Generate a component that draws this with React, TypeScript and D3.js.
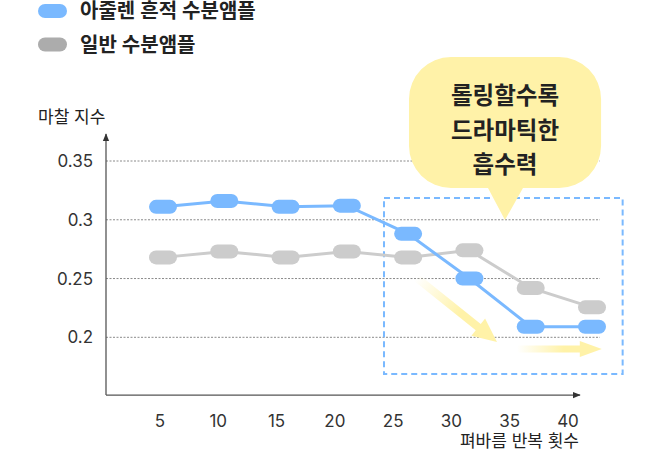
import React, { useEffect, useRef } from "react";
import * as d3 from "d3";

const rounds = [5, 10, 15, 20, 25, 30, 35, 40];
const azulene = [0.311, 0.316, 0.311, 0.312, 0.288, 0.25, 0.209, 0.209];
const normal = [0.268, 0.273, 0.268, 0.273, 0.268, 0.274, 0.242, 0.2255];
const yTicks = [0.2, 0.25, 0.3, 0.35];
const legendLabels = ["아줄렌 흔적 수분앰플", "일반 수분앰플"];
const calloutLines = ["롤링할수록", "드라마틱한", "흡수력"];

const BLUE = "#7ab9ff";
const GRAY_LINE = "#cccccc";
const GRAY_LEGEND = "#acacac";
const YELLOW = "#fff2a8";
const FONT = "Inter, 'Noto Sans CJK KR', sans-serif";

const App: React.FC = () => {
  const svgRef = useRef<SVGSVGElement>(null);

  useEffect(() => {
    const svg = d3.select(svgRef.current);
    svg.selectAll("*").remove();

    // scales
    const x = d3.scaleLinear().domain([5, 40]).range([163, 592]);
    const xLabel = d3.scaleLinear().domain([5, 40]).range([160, 568]);
    const y = d3.scaleLinear().domain([0.2, 0.35]).range([337.3, 161]);
    const axisX = 106;
    const axisY = y(0.15) - 1;

    const defs = svg.append("defs");
    defs
      .append("marker")
      .attr("id", "axisArrow")
      .attr("viewBox", "0 0 10 10")
      .attr("refX", 9)
      .attr("refY", 5)
      .attr("markerWidth", 6)
      .attr("markerHeight", 6)
      .attr("orient", "auto")
      .append("path")
      .attr("d", "M0,1 L10,5 L0,9 Z")
      .attr("fill", "#333");

    // legend
    const legend = svg.append("g");
    legendLabels.forEach((label, i) => {
      const cy = 11 + i * 33.5;
      legend
        .append("rect")
        .attr("x", 38)
        .attr("y", cy - 7)
        .attr("width", 29)
        .attr("height", 14)
        .attr("rx", 7)
        .attr("fill", i === 0 ? BLUE : GRAY_LEGEND);
      legend
        .append("text")
        .attr("x", 80)
        .attr("y", cy)
        .attr("dy", "0.36em")
        .style("font-family", FONT)
        .style("font-size", "20px")
        .style("font-weight", 600)
        .attr("fill", "#222")
        .text(label);
    });

    // gridlines
    svg
      .append("g")
      .selectAll("line")
      .data(yTicks)
      .join("line")
      .attr("x1", axisX)
      .attr("x2", 600)
      .attr("y1", (d) => y(d))
      .attr("y2", (d) => y(d))
      .attr("stroke", "#8a8a8a")
      .attr("stroke-width", 1)
      .attr("stroke-dasharray", "2,1.5");

    // y tick labels
    svg
      .append("g")
      .selectAll("text")
      .data(yTicks)
      .join("text")
      .attr("x", 93)
      .attr("y", (d) => y(d))
      .attr("dy", "0.36em")
      .attr("text-anchor", "end")
      .style("font-family", FONT)
      .style("font-size", "17px")
      .attr("fill", "#333")
      .text((d) => String(d));

    // x tick labels
    svg
      .append("g")
      .selectAll("text")
      .data(rounds)
      .join("text")
      .attr("x", (d) => xLabel(d))
      .attr("y", 421)
      .attr("dy", "0.36em")
      .attr("text-anchor", "middle")
      .style("font-family", FONT)
      .style("font-size", "17px")
      .attr("fill", "#333")
      .text((d) => String(d));

    // axes
    svg
      .append("line")
      .attr("x1", axisX)
      .attr("y1", axisY)
      .attr("x2", axisX)
      .attr("y2", 134)
      .attr("stroke", "#555")
      .attr("stroke-width", 1.3)
      .attr("marker-end", "url(#axisArrow)");
    svg
      .append("line")
      .attr("x1", axisX)
      .attr("y1", axisY)
      .attr("x2", 580)
      .attr("y2", axisY)
      .attr("stroke", "#555")
      .attr("stroke-width", 1.3)
      .attr("marker-end", "url(#axisArrow)");

    // axis titles
    svg
      .append("text")
      .attr("x", 38)
      .attr("y", 117)
      .attr("dy", "0.36em")
      .style("font-family", FONT)
      .style("font-size", "17px")
      .attr("fill", "#222")
      .text("마찰 지수");
    svg
      .append("text")
      .attr("x", 579)
      .attr("y", 441)
      .attr("dy", "0.36em")
      .attr("text-anchor", "end")
      .style("font-family", FONT)
      .style("font-size", "17px")
      .attr("fill", "#222")
      .text("펴바름 반복 횟수");

    // dashed highlight box
    svg
      .append("rect")
      .attr("x", x(23.03))
      .attr("y", y(0.3185))
      .attr("width", x(42.5) - x(23.03))
      .attr("height", y(0.1688) - y(0.3185))
      .attr("fill", "none")
      .attr("stroke", BLUE)
      .attr("stroke-width", 2)
      .attr("stroke-dasharray", "6,4");

    // yellow gradient arrows
    const arrows = [
      { from: [25.7, 0.2505], to: [32.25, 0.196], shaft: 8, head: 22, len: 24 },
      { from: [33.9, 0.19], to: [40.8, 0.19], shaft: 7, head: 16, len: 22 },
    ];
    arrows.forEach((a, i) => {
      const x1 = x(a.from[0]);
      const y1 = y(a.from[1]);
      const x2 = x(a.to[0]);
      const y2 = y(a.to[1]);
      const L = Math.hypot(x2 - x1, y2 - y1);
      const ang = (Math.atan2(y2 - y1, x2 - x1) * 180) / Math.PI;
      const grad = defs
        .append("linearGradient")
        .attr("id", `arrowGrad${i}`)
        .attr("gradientUnits", "userSpaceOnUse")
        .attr("x1", 0)
        .attr("y1", 0)
        .attr("x2", L)
        .attr("y2", 0);
      grad.append("stop").attr("offset", "0%").attr("stop-color", YELLOW).attr("stop-opacity", 0);
      grad.append("stop").attr("offset", "55%").attr("stop-color", YELLOW).attr("stop-opacity", 1);
      grad.append("stop").attr("offset", "100%").attr("stop-color", YELLOW).attr("stop-opacity", 1);
      const s = a.shaft / 2;
      const h = a.head / 2;
      const d = `M0,${-s} L${L - a.len},${-s} L${L - a.len},${-h} L${L},0 L${L - a.len},${h} L${L - a.len},${s} L0,${s} Z`;
      svg
        .append("path")
        .attr("d", d)
        .attr("transform", `translate(${x1},${y1}) rotate(${ang})`)
        .attr("fill", `url(#arrowGrad${i})`);
    });

    // series
    const line = d3
      .line<number>()
      .x((_, i) => x(rounds[i]))
      .y((d) => y(d));
    const series = [
      { values: normal, color: GRAY_LINE },
      { values: azulene, color: BLUE },
    ];
    series.forEach((s) => {
      svg
        .append("path")
        .datum(s.values)
        .attr("fill", "none")
        .attr("stroke", s.color)
        .attr("stroke-width", 3)
        .attr("d", line);
      svg
        .append("g")
        .selectAll("rect")
        .data(s.values)
        .join("rect")
        .attr("x", (_, i) => x(rounds[i]) - 14)
        .attr("y", (d) => y(d) - 7)
        .attr("width", 28)
        .attr("height", 14)
        .attr("rx", 7)
        .attr("fill", s.color);
    });

    // callout bubble
    const bx0 = x(25.07);
    const bx1 = x(40.74);
    const by0 = y(0.4385);
    const by1 = y(0.327);
    const r = 42;
    const tipX = x(32.9);
    const tipY = y(0.2998);
    const bubble = d3.path();
    bubble.moveTo(bx0 + r, by0);
    bubble.lineTo(bx1 - r, by0);
    bubble.arcTo(bx1, by0, bx1, by0 + r, r);
    bubble.lineTo(bx1, by1 - r);
    bubble.arcTo(bx1, by1, bx1 - r, by1, r);
    bubble.lineTo(tipX + 18, by1);
    bubble.lineTo(tipX, tipY);
    bubble.lineTo(tipX - 17, by1);
    bubble.lineTo(bx0 + r, by1);
    bubble.arcTo(bx0, by1, bx0, by1 - r, r);
    bubble.lineTo(bx0, by0 + r);
    bubble.arcTo(bx0, by0, bx0 + r, by0, r);
    bubble.closePath();
    svg.append("path").attr("d", bubble.toString()).attr("fill", YELLOW);

    svg
      .append("g")
      .selectAll("text")
      .data(calloutLines)
      .join("text")
      .attr("x", (bx0 + bx1) / 2)
      .attr("y", (_, i) => 96 + i * 34.5)
      .attr("dy", "0.36em")
      .attr("text-anchor", "middle")
      .style("font-family", FONT)
      .style("font-size", "23.5px")
      .style("font-weight", 700)
      .attr("fill", "#222")
      .text((d) => d);
  }, []);

  return (
    <svg
      ref={svgRef}
      width={650}
      height={461}
      style={{ position: "absolute", left: 0, top: 0, background: "#fff" }}
    />
  );
};

export default App;
